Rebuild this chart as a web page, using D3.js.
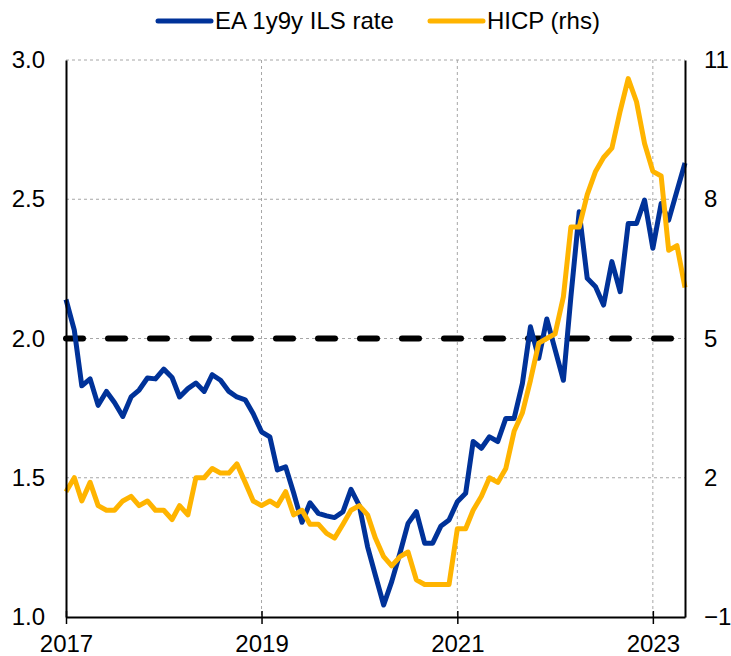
<!DOCTYPE html>
<html>
<head>
<meta charset="utf-8">
<script src="https://cdn.jsdelivr.net/npm/d3@7"></script>
<style>
  body { margin: 0; background: #fff; }
  text { font-family: "Liberation Sans", Arial, sans-serif; fill: #000; }
</style>
</head>
<body>
<svg id="chart" width="731" height="656"></svg>
<script>
// monthly, Jan 2017 .. May 2023
var startMonth = new Date(2017, 0, 1);

// EA 1y9y ILS rate (lhs, %)
var ilsRate = [
  2.14, 2.03, 1.83, 1.855, 1.76, 1.81, 1.77, 1.72, 1.79, 1.815, 1.858, 1.855,
  1.89, 1.86, 1.79, 1.82, 1.84, 1.81, 1.87, 1.85, 1.81, 1.79, 1.78, 1.73,
  1.665, 1.647, 1.528, 1.539, 1.445, 1.34, 1.41, 1.372, 1.363, 1.357, 1.378, 1.458,
  1.40, 1.252, 1.15, 1.043, 1.127, 1.23, 1.336, 1.378, 1.265, 1.265, 1.327, 1.348,
  1.414, 1.444, 1.63, 1.606, 1.647, 1.63, 1.713, 1.713, 1.839, 2.042, 1.929, 2.07,
  1.96, 1.85, 2.15, 2.455, 2.216, 2.186, 2.12, 2.276, 2.168, 2.413, 2.413, 2.497,
  2.324, 2.485, 2.425, 2.53, 2.63
];

// HICP (rhs, % y/y)
var hicp = [
  1.7, 2.0, 1.5, 1.9, 1.4, 1.3, 1.3, 1.5, 1.6, 1.4, 1.5, 1.3,
  1.3, 1.1, 1.4, 1.2, 2.0, 2.0, 2.2, 2.1, 2.1, 2.3, 1.9, 1.5,
  1.4, 1.5, 1.4, 1.7, 1.2, 1.3, 1.0, 1.0, 0.8, 0.7, 1.0, 1.3,
  1.4, 1.2, 0.7, 0.3, 0.1, 0.3, 0.4, -0.2, -0.3, -0.3, -0.3, -0.3,
  0.9, 0.9, 1.3, 1.6, 2.0, 1.9, 2.2, 3.0, 3.4, 4.1, 4.9, 5.0,
  5.1, 5.9, 7.4, 7.4, 8.1, 8.6, 8.9, 9.1, 9.9, 10.6, 10.1, 9.2,
  8.6, 8.5, 6.9, 7.0, 6.1
];

var leftTicks = [1.0, 1.5, 2.0, 2.5, 3.0];
var rightTicks = [-1, 2, 5, 8, 11];
var yearTicks = [2017, 2019, 2021, 2023];
var targetLevel = 2.0;
var seriesNames = ["EA 1y9y ILS rate", "HICP (rhs)"];
var colors = ["#003299", "#ffb400"];

var margin = {left: 66, right: 46, top: 60, bottom: 39};
var width = 731 - margin.left - margin.right;
var height = 656 - margin.top - margin.bottom;

function monthDate(i) {
  return d3.timeMonth.offset(startMonth, i);
}

var svg = d3.select("#chart");
var g = svg.append("g").attr("transform", "translate(" + margin.left + "," + margin.top + ")");

var x = d3.scaleTime()
  .domain([startMonth, monthDate(ilsRate.length - 1)])
  .range([0, width]);
var yL = d3.scaleLinear().domain([1.0, 3.0]).range([height, 0]);
var yR = d3.scaleLinear().domain([-1, 11]).range([height, 0]);

// gridlines
g.selectAll(".hgrid").data(leftTicks.slice(1)).enter().append("line")
  .attr("x1", 0).attr("x2", width)
  .attr("y1", function (d) { return yL(d); })
  .attr("y2", function (d) { return yL(d); })
  .style("stroke", "#a6a6a6").style("stroke-width", 1).style("stroke-dasharray", "3,3");

g.selectAll(".vgrid").data(yearTicks.slice(1)).enter().append("line")
  .attr("x1", function (d) { return x(new Date(d, 0, 1)); })
  .attr("x2", function (d) { return x(new Date(d, 0, 1)); })
  .attr("y1", 0).attr("y2", height)
  .style("stroke", "#a6a6a6").style("stroke-width", 1).style("stroke-dasharray", "3,3");

// 2% line
g.append("line")
  .attr("x1", 0).attr("x2", width)
  .attr("y1", yL(targetLevel)).attr("y2", yL(targetLevel))
  .style("stroke", "#000").style("stroke-width", 6)
  .style("stroke-dasharray", "17,25").style("stroke-linecap", "round");

// series
var lineL = d3.line()
  .x(function (d, i) { return x(monthDate(i)); })
  .y(function (d) { return yL(d); });
var lineR = d3.line()
  .x(function (d, i) { return x(monthDate(i)); })
  .y(function (d) { return yR(d); });

g.append("path").datum(ilsRate)
  .attr("d", lineL)
  .style("fill", "none").style("stroke", colors[0]).style("stroke-width", 5)
  .style("stroke-linejoin", "round");

g.append("path").datum(hicp)
  .attr("d", lineR)
  .style("fill", "none").style("stroke", colors[1]).style("stroke-width", 5)
  .style("stroke-linejoin", "round");

// axes
var fontSize = "24px";

var xAxis = g.append("g").attr("transform", "translate(0," + height + ")")
  .call(d3.axisBottom(x)
    .tickValues(yearTicks.map(function (d) { return new Date(d, 0, 1); }))
    .tickFormat(d3.timeFormat("%Y"))
    .tickSizeInner(7).tickSizeOuter(0));
xAxis.select(".domain").style("stroke", "#000").style("stroke-width", 2);
xAxis.selectAll(".tick line").attr("y1", -6).style("stroke", "#000").style("stroke-width", 1.5);
xAxis.selectAll(".tick text").attr("y", 18).style("font-size", fontSize);

var yAxisL = g.append("g")
  .call(d3.axisLeft(yL).tickValues(leftTicks).tickFormat(d3.format(".1f")).tickSize(0).tickPadding(21));
yAxisL.select(".domain").style("stroke", "#000").style("stroke-width", 2);
yAxisL.selectAll(".tick text").style("font-size", fontSize);

var yAxisR = g.append("g").attr("transform", "translate(" + width + ",0)")
  .call(d3.axisRight(yR).tickValues(rightTicks).tickFormat(d3.format("d")).tickSize(0).tickPadding(19));
yAxisR.select(".domain").style("stroke", "#000").style("stroke-width", 2);
yAxisR.selectAll(".tick text").style("font-size", fontSize);

svg.selectAll(".tick text").style("fill", "#000");

// legend
var legendPos = [158, 430];
var legend = svg.selectAll(".legend").data(seriesNames).enter().append("g")
  .attr("transform", function (d, i) { return "translate(" + legendPos[i] + ",21)"; });
legend.append("line")
  .attr("x1", 0).attr("x2", 53)
  .style("stroke", function (d, i) { return colors[i]; })
  .style("stroke-width", 5).style("stroke-linecap", "round");
legend.append("text")
  .attr("x", 57).attr("dy", "0.35em")
  .style("font-size", fontSize)
  .text(function (d) { return d; });
</script>
</body>
</html>
